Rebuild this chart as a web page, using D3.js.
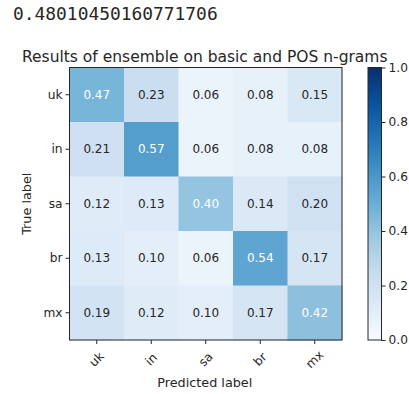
<!DOCTYPE html>
<html>
<head>
<meta charset="utf-8">
<script src="https://cdn.jsdelivr.net/npm/d3@7"></script>
<style>
  html, body { margin: 0; padding: 0; background: #fff; }
  svg { display: block; }
  text { font-family: "DejaVu Sans", sans-serif; fill: #262626; }
</style>
</head>
<body>
<svg id="chart" width="409" height="394"></svg>
<script>
// Confusion matrix (row-normalized): true label rows, predicted label columns
const labels = ["uk", "in", "sa", "br", "mx"];
const rowUk = [0.47, 0.23, 0.06, 0.08, 0.15];
const rowIn = [0.21, 0.57, 0.06, 0.08, 0.08];
const rowSa = [0.12, 0.13, 0.40, 0.14, 0.20];
const rowBr = [0.13, 0.10, 0.06, 0.54, 0.17];
const rowMx = [0.19, 0.12, 0.10, 0.17, 0.42];
const matrix = [rowUk, rowIn, rowSa, rowBr, rowMx];
const colorbarTicks = [0.0, 0.2, 0.4, 0.6, 0.8, 1.0];
const accuracyText = "0.48010450160771706";
const titleText = "Results of ensemble on basic and POS n-grams";

const svg = d3.select("#chart");

// "Blues" colormap built from its nine anchor colours
const bluesAnchors = ["#f7fbff", "#deebf7", "#c6dbef", "#9ecae1", "#6baed6",
                      "#4292c6", "#2171b5", "#08519c", "#08306b"];
const color = d3.scaleLinear()
  .domain(d3.range(bluesAnchors.length).map(i => i / (bluesAnchors.length - 1)))
  .range(bluesAnchors)
  .interpolate(d3.interpolateRgb)
  .clamp(true);

// printed score above the figure
svg.append("text")
  .attr("x", 13).attr("y", 20)
  .style("font-family", "'DejaVu Sans Mono', monospace")
  .style("font-size", "17.9px")
  .text(accuracyText);

const plot = { left: 69.5, top: 67.5, size: 272.5 };

const x = d3.scaleBand().domain(labels).range([plot.left, plot.left + plot.size]);
const y = d3.scaleBand().domain(labels).range([plot.top, plot.top + plot.size]);

const thresh = d3.max(matrix.flat()) / 2;

const cells = [];
matrix.forEach((row, i) => row.forEach((v, j) => cells.push({ r: labels[i], c: labels[j], v })));

svg.append("g").selectAll("rect").data(cells).join("rect")
  .attr("x", d => x(d.c)).attr("y", d => y(d.r))
  .attr("width", x.bandwidth() + 0.5).attr("height", y.bandwidth() + 0.5)
  .attr("fill", d => color(d.v));

svg.append("g").selectAll("text").data(cells).join("text")
  .attr("x", d => x(d.c) + x.bandwidth() / 2)
  .attr("y", d => y(d.r) + y.bandwidth() / 2)
  .attr("text-anchor", "middle")
  .attr("dominant-baseline", "central")
  .style("font-size", "12px")
  .style("fill", d => d.v > thresh ? "#ffffff" : "#262626")
  .text(d => d.v.toFixed(2));

// frame
svg.append("rect")
  .attr("x", plot.left).attr("y", plot.top)
  .attr("width", plot.size).attr("height", plot.size)
  .attr("fill", "none").attr("stroke", "#262626").attr("stroke-width", 1);

// y axis
const yAxis = svg.append("g")
  .attr("transform", `translate(${plot.left},0)`)
  .call(d3.axisLeft(y).tickSize(4).tickPadding(3));
yAxis.select(".domain").remove();
yAxis.selectAll("line").attr("stroke", "#262626");
yAxis.selectAll("text").style("font-size", "12.2px").style("font-family", "'DejaVu Sans', sans-serif").attr("fill", "#262626");

// x axis with rotated labels
const xAxis = svg.append("g")
  .attr("transform", `translate(0,${plot.top + plot.size})`)
  .call(d3.axisBottom(x).tickSize(4).tickPadding(3));
xAxis.select(".domain").remove();
xAxis.selectAll("line").attr("stroke", "#262626");
xAxis.selectAll("text")
  .style("font-size", "12.2px").style("font-family", "'DejaVu Sans', sans-serif").attr("fill", "#262626")
  .attr("dy", null).attr("y", 0)
  .attr("text-anchor", "middle").attr("dominant-baseline", "central")
  .attr("transform", "translate(0,19.5) rotate(-45)");

// title and axis titles
svg.append("text")
  .attr("x", plot.left + plot.size / 2 - 1).attr("y", 61.5)
  .attr("text-anchor", "middle")
  .style("font-size", "15.5px")
  .text(titleText);

svg.append("text")
  .attr("x", plot.left + plot.size / 2 - 1).attr("y", 387)
  .attr("text-anchor", "middle")
  .style("font-size", "12.8px")
  .text("Predicted label");

svg.append("text")
  .attr("transform", `translate(31,${plot.top + plot.size / 2}) rotate(-90)`)
  .attr("text-anchor", "middle")
  .style("font-size", "12.8px")
  .text("True label");

// colorbar
const cb = { left: 368, width: 13.5 };
const cbScale = d3.scaleLinear().domain([0, 1]).range([plot.top + plot.size, plot.top]);

const defs = svg.append("defs");
const grad = defs.append("linearGradient")
  .attr("id", "cbGrad").attr("x1", 0).attr("y1", 1).attr("x2", 0).attr("y2", 0);
grad.selectAll("stop").data(d3.range(0, 1.0001, 0.05)).join("stop")
  .attr("offset", d => d).attr("stop-color", d => color(d));

svg.append("rect")
  .attr("x", cb.left).attr("y", plot.top)
  .attr("width", cb.width).attr("height", plot.size)
  .attr("fill", "url(#cbGrad)")
  .attr("stroke", "#262626").attr("stroke-width", 1);

const cbAxis = svg.append("g")
  .attr("transform", `translate(${cb.left + cb.width},0)`)
  .call(d3.axisRight(cbScale).tickValues(colorbarTicks).tickFormat(d3.format(".1f")).tickSize(4).tickPadding(3));
cbAxis.select(".domain").remove();
cbAxis.selectAll("line").attr("stroke", "#262626");
cbAxis.selectAll("text").style("font-size", "12.2px").style("font-family", "'DejaVu Sans', sans-serif").attr("fill", "#262626");
</script>
</body>
</html>
